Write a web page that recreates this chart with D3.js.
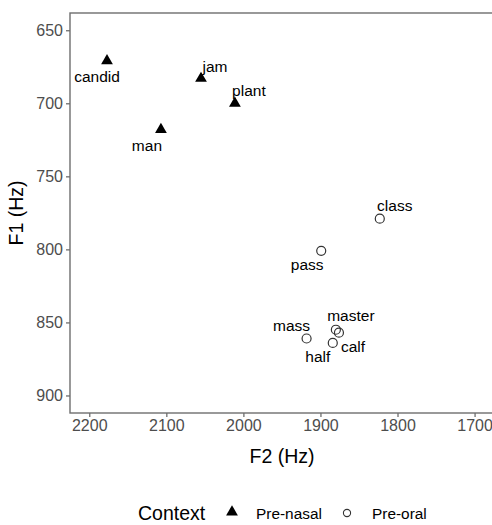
<!DOCTYPE html>
<html>
<head>
<meta charset="utf-8">
<script src="https://cdn.jsdelivr.net/npm/d3@7"></script>
<style>
  body { margin: 0; background: #fff; }
  svg { display: block; font-family: "Liberation Sans", Arial, sans-serif; }
</style>
</head>
<body>
<svg id="chart" width="492" height="525"></svg>
<script>
const words   = ["candid", "jam", "plant", "man", "class", "pass", "mass", "half", "master", "calf"];
const context = ["Pre-nasal", "Pre-nasal", "Pre-nasal", "Pre-nasal", "Pre-oral", "Pre-oral", "Pre-oral", "Pre-oral", "Pre-oral", "Pre-oral"];
const f2      = [2177, 2055, 2011, 2107, 1823, 1899, 1918, 1884, 1880, 1876];
const f1      = [671, 683, 700, 718, 779, 801, 861, 864, 855, 857];
const xTicks  = [2200, 2100, 2000, 1900, 1800, 1700];
const yTicks  = [650, 700, 750, 800, 850, 900];
const legendLabels = ["Pre-nasal", "Pre-oral"];
// label offsets (dx, dy) relative to point, in px
const labelDx = [-10, 14, 14, -14, 15, -14, -15, -15, 15, 14];
const labelDy = [17, -11, -11, 17, -12, 15, -12, 15, -13, 15];

const svg = d3.select("#chart");
const panel = {left: 70, top: 13, right: 500, bottom: 413};

const x = d3.scaleLinear().domain([2225, 1667]).range([panel.left, panel.right]);
const y = d3.scaleLinear().domain([638.2, 912]).range([panel.top, panel.bottom]);

const tickColor = "#4d4d4d";
const borderColor = "#6e6e6e";

// axes
const yAxis = svg.append("g").attr("transform", `translate(${panel.left},0)`)
  .call(d3.axisLeft(y).tickValues(yTicks).tickFormat(d3.format("d")).tickSize(4).tickPadding(3));
const xAxis = svg.append("g").attr("transform", `translate(0,${panel.bottom})`)
  .call(d3.axisBottom(x).tickValues(xTicks).tickFormat(d3.format("d")).tickSize(4).tickPadding(3));
[xAxis, yAxis].forEach(g => {
  g.select(".domain").remove();
  g.selectAll(".tick line").attr("stroke", borderColor).attr("stroke-width", 1.3);
  g.selectAll(".tick text").attr("fill", tickColor).style("font-size", "16px").style("font-family", "Liberation Sans, Arial, sans-serif");
});

// panel border
svg.append("rect")
  .attr("x", panel.left).attr("y", panel.top)
  .attr("width", panel.right - panel.left).attr("height", panel.bottom - panel.top)
  .attr("fill", "none").attr("stroke", borderColor).attr("stroke-width", 1.4);

const data = words.map((w, i) => ({w, c: context[i], x: f2[i], y: f1[i], dx: labelDx[i], dy: labelDy[i]}));

const tri = d3.symbol().type(d3.symbolTriangle).size(60);

const pts = svg.append("g");
data.forEach(d => {
  if (d.c === "Pre-nasal") {
    pts.append("path").attr("d", tri)
      .attr("transform", `translate(${x(d.x)},${y(d.y)})`)
      .attr("fill", "#000");
  } else {
    pts.append("circle").attr("cx", x(d.x)).attr("cy", y(d.y)).attr("r", 4.5)
      .attr("fill", "none").attr("stroke", "#333").attr("stroke-width", 1.2);
  }
});

svg.append("g").selectAll("text").data(data).join("text")
  .attr("x", d => x(d.x) + d.dx)
  .attr("y", d => y(d.y) + d.dy)
  .attr("text-anchor", "middle")
  .attr("dominant-baseline", "middle")
  .style("font-size", "15.5px")
  .attr("fill", "#000")
  .text(d => d.w);

// axis titles
svg.append("text").attr("x", 282).attr("y", 463)
  .attr("text-anchor", "middle").style("font-size", "19.5px").text("F2 (Hz)");
svg.append("text").attr("transform", "translate(23,213) rotate(-90)")
  .attr("text-anchor", "middle").style("font-size", "19.5px").text("F1 (Hz)");

// legend
const lg = svg.append("g");
lg.append("text").attr("x", 138).attr("y", 520).style("font-size", "19.5px").text("Context");
lg.append("path").attr("d", tri).attr("transform", "translate(232,512)").attr("fill", "#000");
lg.append("text").attr("x", 256).attr("y", 519).style("font-size", "15.4px").text(legendLabels[0]);
lg.append("circle").attr("cx", 347).attr("cy", 513).attr("r", 3.6)
  .attr("fill", "none").attr("stroke", "#333").attr("stroke-width", 1.1);
lg.append("text").attr("x", 372).attr("y", 519).style("font-size", "15.4px").text(legendLabels[1]);
</script>
</body>
</html>
